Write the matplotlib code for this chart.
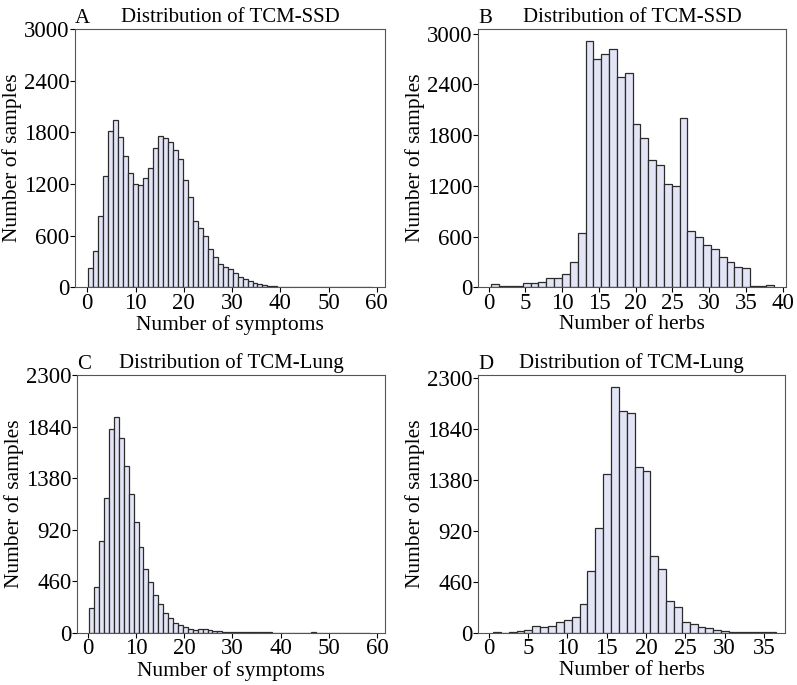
import numpy as np
import matplotlib
matplotlib.use("Agg")
import matplotlib.pyplot as plt

plt.rcParams["font.family"] = ["Liberation Serif", "DejaVu Serif"]

# bar heights (counts per bin)
ssd_symptoms = [220, 420, 825, 1290, 1810, 1940, 1745, 1530, 1330, 1205,
                1190, 1265, 1380, 1620, 1755, 1730, 1685, 1595, 1485, 1245,
                1050, 775, 685, 595, 440, 355, 266, 235, 210, 162,
                116, 100, 73, 54, 39, 23, 15, 12, 8, 6,
                4, 3, 3, 2, 2, 2, 1, 1, 8, 1,
                1, 1, 1, 1, 1, 1, 6]
ssd_herbs = [40, 10, 15, 20, 52, 55, 63, 107, 115, 158, 300, 647,
             2909, 2696, 2755, 2814, 2487, 2538, 1934, 1768, 1500, 1441, 1220, 1196,
             2001, 667, 600, 505, 450, 363, 296, 245, 225, 16, 16, 28]
lung_symptoms = [217, 405, 819, 1200, 1816, 1929, 1736, 1486, 1235, 985,
                 762, 572, 450, 333, 259, 173, 128, 86, 68, 51,
                 36, 24, 33, 33, 24, 18, 12, 9, 7, 6,
                 5, 4, 3, 3, 2, 2, 2, 1, 1, 1,
                 1, 1, 1, 1, 1, 8, 1, 0, 0, 0,
                 0, 0, 0, 0, 0, 0, 1]
lung_herbs = [3, 0, 3, 12, 24, 58, 48, 58, 100, 112,
              139, 260, 554, 947, 1434, 2220, 2009, 1985, 1498, 1465,
              696, 575, 287, 230, 94, 76, 48, 39, 24, 18,
              9, 9, 3, 3, 3, 3]

# bin ranges (first edge, last edge)
ssd_symptoms_range = (0.2, 59.0)
ssd_herbs_range = (0.37, 38.78)
lung_symptoms_range = (0.35, 58.5)
lung_herbs_range = (0.55, 36.55)

panels = [
    ("A", "Distribution of TCM-SSD", "Number of symptoms", ssd_symptoms, ssd_symptoms_range,
     [75, 287.3, 385, 29], (-2.55, 61.7), np.arange(0, 61, 10), 3000, np.arange(0, 3001, 600)),
    ("B", "Distribution of TCM-SSD", "Number of herbs", ssd_herbs, ssd_herbs_range,
     [478, 287.3, 786, 29], (-1.46, 40.46), np.arange(0, 41, 5), 3054, np.arange(0, 3001, 600)),
    ("C", "Distribution of TCM-Lung", "Number of symptoms", lung_symptoms, lung_symptoms_range,
     [77, 632.7, 385, 375], (-2.2, 61.6), np.arange(0, 61, 10), 2300, np.arange(0, 2301, 460)),
    ("D", "Distribution of TCM-Lung", "Number of herbs", lung_herbs, lung_herbs_range,
     [478, 632.7, 785, 375], (-1.36, 37.66), np.arange(0, 36, 5), 2330, np.arange(0, 2301, 460)),
]

W, H = 797, 685
fig = plt.figure(figsize=(W / 100, H / 100), dpi=100)

for tag, title, xlabel, counts, (lo, hi), box, xlim, xticks, ytop, yticks in panels:
    l, b, r, t = box
    ax = fig.add_axes([l / W, (H - b) / H, (r - l) / W, (b - t) / H])
    edges = np.linspace(lo, hi, len(counts) + 1)
    ax.bar(edges[:-1], counts, width=np.diff(edges), align="edge",
           color="#e3e5f7", edgecolor="#2b2b2b", linewidth=0.9)
    ax.set_xlim(*xlim)
    ax.set_ylim(0, ytop)
    ax.set_xticks(xticks)
    ax.set_yticks(yticks)
    ax.tick_params(labelsize=16.5, length=3.5, width=0.8, pad=0.5)
    ax.set_xlabel(xlabel, fontsize=15.5, labelpad=1)
    ax.set_ylabel("Number of samples", fontsize=15.5, labelpad=1)
    ax.set_title(title, fontsize=15, pad=5)
    ax.text(0.0, 1.005, tag, transform=ax.transAxes, fontsize=15, ha="left", va="bottom")
    for s in ax.spines.values():
        s.set_color("#555555")
        s.set_linewidth(0.8)

fig.savefig("out.png", dpi=100)
